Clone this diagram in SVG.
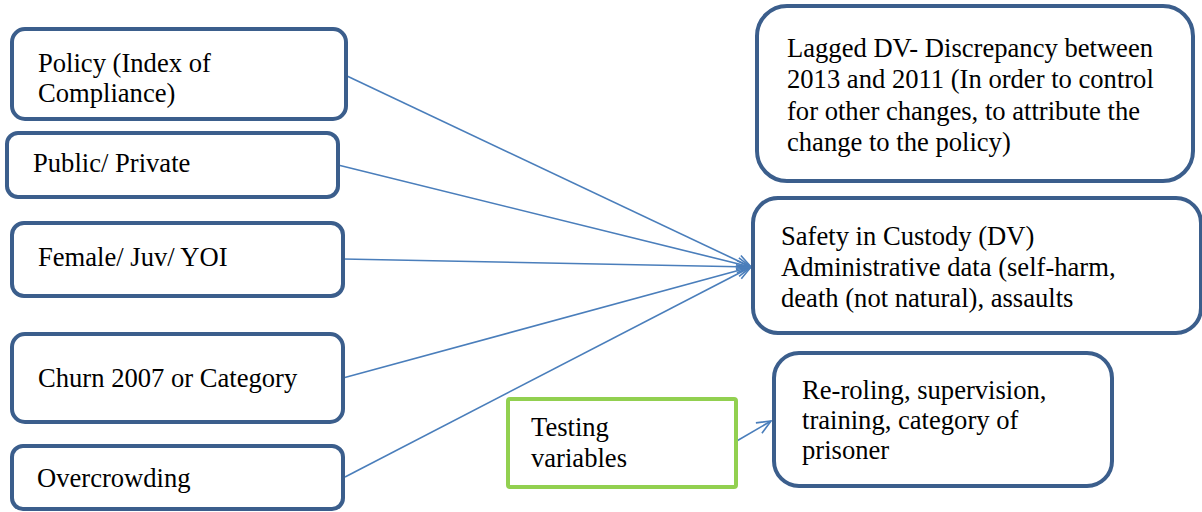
<svg xmlns="http://www.w3.org/2000/svg" width="1202" height="512" viewBox="0 0 1202 512">
<style>
.box{fill:#fff;stroke:#3B5E8C;stroke-width:4}
.green{fill:#fff;stroke:#92D050;stroke-width:4}
.t{font-family:"Liberation Serif","Times New Roman",serif;font-size:26.6px;fill:#000}
.c{stroke:#4A7EBB;stroke-width:1.6;fill:none}
</style>
<defs>
<marker id="ah" markerUnits="userSpaceOnUse" markerWidth="20" markerHeight="20" refX="15" refY="7" orient="auto">
<path d="M1,1 L15,7 L1,13" fill="none" stroke="#4A7EBB" stroke-width="1.6"/>
</marker>
</defs>
<rect width="1202" height="512" fill="#fff"/>
<g id="connectors">
<line class="c" x1="347" y1="76" x2="751" y2="267" marker-end="url(#ah)"/>
<line class="c" x1="338" y1="165" x2="751" y2="267" marker-end="url(#ah)"/>
<line class="c" x1="343" y1="259" x2="751" y2="267" marker-end="url(#ah)"/>
<line class="c" x1="343" y1="378" x2="751" y2="267" marker-end="url(#ah)"/>
<line class="c" x1="345" y1="477" x2="751" y2="267" marker-end="url(#ah)"/>
<line class="c" x1="735" y1="442" x2="771" y2="421" marker-end="url(#ah)"/>
</g>
<g id="policy">
<rect class="box" x="12" y="29" width="334" height="90" rx="13"/>
<text class="t" x="38" y="72">Policy (Index of</text>
<text class="t" x="38" y="102">Compliance)</text>
</g>
<g id="public">
<rect class="box" x="7" y="133" width="331" height="64" rx="11"/>
<text class="t" x="33" y="172">Public/ Private</text>
</g>
<g id="female">
<rect class="box" x="12" y="223" width="331" height="73" rx="12"/>
<text class="t" x="38" y="266">Female/ Juv/ YOI</text>
</g>
<g id="churn">
<rect class="box" x="12" y="334" width="331" height="88" rx="13"/>
<text class="t" x="38" y="387">Churn 2007 or Category</text>
</g>
<g id="overcrowding">
<rect class="box" x="12" y="446" width="331" height="63" rx="11"/>
<text class="t" x="37" y="487">Overcrowding</text>
</g>
<g id="lagged">
<rect class="box" x="757" y="6" width="436" height="175" rx="30"/>
<text class="t" x="787" y="57">Lagged DV- Discrepancy between</text>
<text class="t" x="787" y="88">2013 and 2011 (In order to control</text>
<text class="t" x="787" y="120">for other changes, to attribute the</text>
<text class="t" x="787" y="151">change to the policy)</text>
</g>
<g id="safety">
<rect class="box" x="753" y="198" width="448" height="135" rx="25"/>
<text class="t" x="781" y="245">Safety in Custody (DV)</text>
<text class="t" x="781" y="276">Administrative data (self-harm,</text>
<text class="t" x="781" y="307">death (not natural), assaults</text>
</g>
<g id="testing">
<rect class="green" x="508" y="399" width="228" height="88" rx="2"/>
<text class="t" x="531" y="436">Testing</text>
<text class="t" x="531" y="467">variables</text>
</g>
<g id="reroling">
<rect class="box" x="774" y="353" width="338" height="133" rx="25"/>
<text class="t" x="802" y="399">Re-roling, supervision,</text>
<text class="t" x="802" y="429">training, category of</text>
<text class="t" x="802" y="459">prisoner</text>
</g>
</svg>
